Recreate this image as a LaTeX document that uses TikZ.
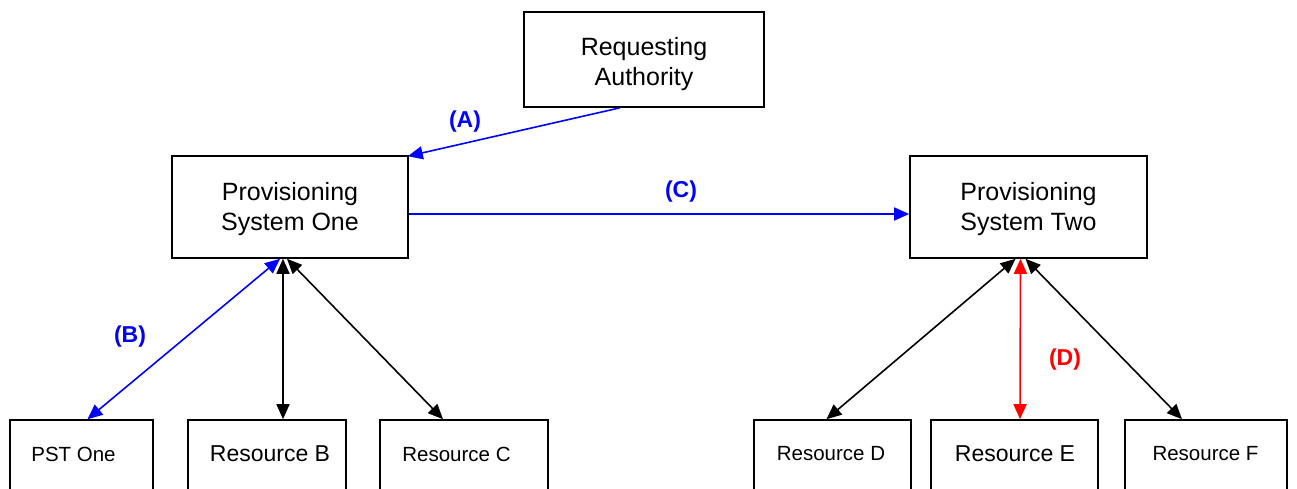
\documentclass[tikz,border=0pt]{standalone}
\usepackage{fontspec}
\setmainfont{Liberation Sans}
\usetikzlibrary{arrows.meta}
\begin{document}
\begin{tikzpicture}[x=1pt,y=-1pt,
  box/.style={draw=black,line width=1.6pt,inner sep=0pt},
  rbox/.style={draw=black,line width=1.6pt,inner sep=0pt,minimum height=72pt},
  txt/.style={align=center,inner sep=0pt,font=\fontsize{25}{30}\selectfont},
  big/.style={inner sep=0pt,font=\fontsize{23}{27}\selectfont},
  small/.style={inner sep=0pt,font=\fontsize{20.5}{24}\selectfont},
  conn/.style={line width=1.6pt,{Triangle[length=15pt,width=13pt]}-{Triangle[length=15pt,width=13pt]}},
  oneway/.style={line width=1.6pt,-{Triangle[length=15pt,width=13pt]}},
  lbl/.style={font=\fontsize{23}{27}\selectfont\bfseries}]
\useasboundingbox (0,0) rectangle (1297,489);
\node[box,minimum width=240pt,minimum height=95pt] (ra) at (644,59.5) {};
\node[txt] (rat) at (644,64.5) {Requesting\\Authority};
\node[box,minimum width=236pt,minimum height=102pt] (ps1) at (290,207) {};
\node[txt] (ps1t) at (290,209) {Provisioning\\System One};
\node[box,minimum width=237pt,minimum height=102pt] (ps2) at (1028.5,207) {};
\node[txt] (ps2t) at (1028.5,209) {Provisioning\\System Two};
\node[rbox,minimum width=143pt] (pst) at (81.5,456) {};
\node[small] (pstt) at (73.5,454) {PST One};
\node[rbox,minimum width=158pt] (rb) at (267,456) {};
\node[big] (rbt) at (270,454) {Resource B};
\node[rbox,minimum width=168pt] (rc) at (464,456) {};
\node[small] (rct) at (456.5,454) {Resource C};
\node[rbox,minimum width=157pt] (rd) at (832.5,456) {};
\node[small] (rdt) at (831,454) {Resource D};
\node[rbox,minimum width=167pt] (re) at (1014.5,456) {};
\node[big] (ret) at (1015,454) {Resource E};
\node[rbox,minimum width=162pt] (rf) at (1206,456) {};
\node[small] (rft) at (1205.5,454) {Resource F};
% connectors
\draw[oneway,blue] ([xshift=-24pt]ra.south) -- ([xshift=-1pt,yshift=-1pt]ps1.north east);
\draw[oneway,blue] ([yshift=-7pt]ps1.east) -- ([yshift=-7pt]ps2.west);
\draw[conn,blue] ([xshift=-10pt]ps1.south) -- ([xshift=6pt]pst.north);
\draw[conn,black] ([xshift=-7pt]ps1.south) -- ([xshift=16pt]rb.north);
\draw[conn,black] ([xshift=-3pt]ps1.south) -- ([xshift=-21pt]rc.north);
\draw[conn,black] ([xshift=-13pt]ps2.south) -- ([xshift=-6pt]rd.north);
\draw[conn,red] ([xshift=-8pt]ps2.south) -- ([xshift=5.5pt]re.north);
\draw[conn,black] ([xshift=-3pt]ps2.south) -- ([xshift=-24pt]rf.north);
% labels
\node[lbl,text=blue] (la) at (465,122) {(A)};
\node[lbl,text=blue] (lb) at (130,337) {(B)};
\node[lbl,text=blue] (lc) at (681,192) {(C)};
\node[lbl,text=red] (ld) at (1065,360) {(D)};
\end{tikzpicture}
\end{document}
